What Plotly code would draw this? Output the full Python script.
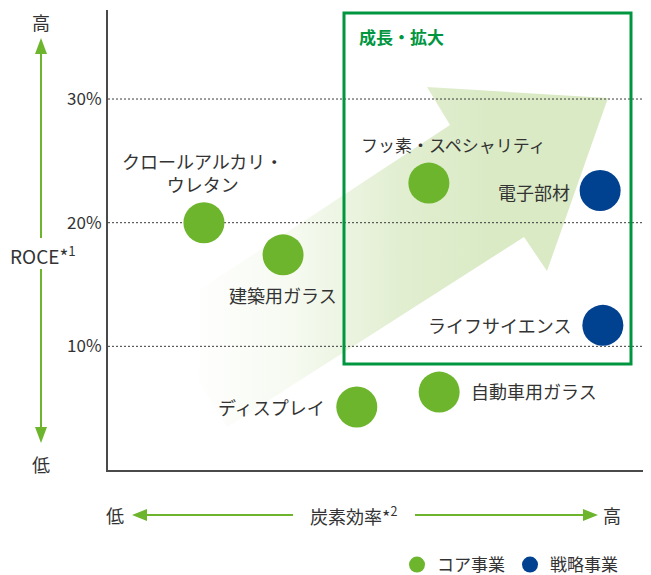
import plotly.graph_objects as go

# ---- data ----
core_names = ["クロールアルカリ・<br>ウレタン", "建築用ガラス", "ディスプレイ", "自動車用ガラス", "フッ素・スペシャリティ"]
core_carbon = [1.77, 3.23, 4.59, 6.11, 5.92]   # carbon efficiency (relative, no scale)
core_roce = [20.0, 17.4, 5.1, 6.3, 23.2]       # ROCE %

strat_names = ["電子部材", "ライフサイエンス"]
strat_carbon = [9.08, 9.13]
strat_roce = [22.6, 11.7]

roce_ticks = [10, 20, 30]
roce_ticktext = ["10%", "20%", "30%"]

# label placement (pixel offsets from each marker): xanchor, xshift, yshift, font size
core_label_style = [("center", -1, 50, 18), ("center", 0, -40, 18), ("right", -30, 0, 18),
                    ("left", 30, 1, 18), ("center", 25, 39, 17)]
strat_label_style = [("right", -28, -1, 18), ("right", -30, 0, 18)]

GREEN = "#6cb52d"
BLUE = "#004190"
BOX = "#00963f"
ARROW_GREEN = "#6cb52d"
TXT = "#333333"
FONT = "Noto Sans CJK JP"

# page body has an 8px margin: figure is drawn 8px in from the window corner
OFF = 8
W, H = 651 - OFF, 575 - OFF
ML, MT = 108 - OFF, 10 - OFF
PW, PH = 542, 460
MR, MB = W - ML - PW, H - MT - PH
XR = [0, 10]
YR = [0, 37.2]

# helpers take window-pixel positions (as measured on the reference)
def xd(px):
    return XR[0] + (px - OFF - ML) / PW * (XR[1] - XR[0])

def yd(py):
    return YR[0] + (MT + PH - (py - OFF)) / PH * (YR[1] - YR[0])

def xp(px):
    return (px - OFF - ML) / PW

def yp(py):
    return (MT + PH - (py - OFF)) / PH

fig = go.Figure()

# growth arrow (decorative, gradient)
arrow_px = [(158, 317), (450, 125), (427, 87), (608, 98), (547, 271), (524, 237), (227, 427), (158, 317)]
fig.add_trace(go.Scatter(
    x=[xd(a) for a, b in arrow_px], y=[yd(b) for a, b in arrow_px],
    mode="lines", fill="toself", line=dict(width=0),
    fillgradient=dict(type="horizontal",
                      colorscale=[[0, "rgba(218,234,197,0)"], [0.35, "rgba(218,234,197,0.25)"],
                                  [0.7, "rgba(218,234,197,0.8)"], [1, "rgba(218,234,197,1)"]],
                      start=xd(190), stop=xd(490)),
    hoverinfo="skip", showlegend=False))

# dotted gridlines
for v in roce_ticks:
    fig.add_trace(go.Scatter(x=XR, y=[v, v], mode="lines",
                             line=dict(color="#3a3a3a", width=1, dash="2px,2px"),
                             hoverinfo="skip", showlegend=False))

fig.add_trace(go.Scatter(
    x=core_carbon, y=core_roce, mode="markers", name="コア事業",
    marker=dict(color=GREEN, size=41, line=dict(width=0)), hoverinfo="skip"))
fig.add_trace(go.Scatter(
    x=strat_carbon, y=strat_roce, mode="markers", name="戦略事業",
    marker=dict(color=BLUE, size=41, line=dict(width=0)), hoverinfo="skip"))

annotations = []
for names, xs, ys, styles in [(core_names, core_carbon, core_roce, core_label_style),
                              (strat_names, strat_carbon, strat_roce, strat_label_style)]:
    for n, x, y, (xa, xs_, ys_, fs) in zip(names, xs, ys, styles):
        annotations.append(dict(text=n, x=x, y=y, xref="x", yref="y", showarrow=False,
                                xanchor=xa, yanchor="middle", xshift=xs_, yshift=ys_,
                                font=dict(family=FONT, size=fs, color=TXT)))

shapes = []
# growth box
shapes.append(dict(type="rect", xref="x", yref="y", x0=xd(344), x1=xd(631), y0=yd(364), y1=yd(13),
                   line=dict(color=BOX, width=3), layer="above"))

# axis arrows (paper coords)
def line(x0, y0, x1, y1):
    shapes.append(dict(type="line", xref="paper", yref="paper", x0=xp(x0), y0=yp(y0), x1=xp(x1), y1=yp(y1),
                       line=dict(color=ARROW_GREEN, width=2)))

def tri(pts):
    path = "M " + " L ".join(f"{xp(a)},{yp(b)}" for a, b in pts) + " Z"
    shapes.append(dict(type="path", xref="paper", yref="paper", path=path,
                       fillcolor=ARROW_GREEN, line=dict(width=0)))

line(41, 54, 41, 238)
line(41, 269, 41, 427)
tri([(41, 38), (35, 54), (47, 54)])
tri([(41, 443), (35, 427), (47, 427)])
line(147, 515, 293, 515)
line(415, 515, 583, 515)
tri([(132, 515), (147, 509), (147, 521)])
tri([(598, 515), (583, 509), (583, 521)])

def ann(text, x, y, size=18, color=TXT, xanchor="center"):
    annotations.append(dict(text=text, xref="paper", yref="paper", x=xp(x), y=yp(y),
                            xanchor=xanchor, yanchor="middle", showarrow=False,
                            font=dict(family=FONT, size=size, color=color)))

ann("高", 41, 22)
ann("低", 41, 464)
ann("ROCE*<sup>1</sup>", 43, 255, size=19)
ann("低", 115, 515)
ann("炭素効率*<sup>2</sup>", 353, 515, size=18)
ann("高", 612, 515)
ann("<b>成長・拡大</b>", 357, 36, size=17, color=BOX, xanchor="left")

fig.update_layout(
    width=W, height=H,
    margin=dict(l=ML, r=MR, t=MT, b=MB, pad=0, autoexpand=False),
    paper_bgcolor="white", plot_bgcolor="white",
    font=dict(family=FONT, color=TXT),
    xaxis=dict(range=XR, showgrid=False, zeroline=False, showticklabels=False, automargin=False,
               showline=True, linecolor="#4a4a4a", linewidth=2, fixedrange=True),
    yaxis=dict(range=YR, showgrid=False, zeroline=False, tickvals=roce_ticks, ticktext=roce_ticktext,
               tickfont=dict(family=FONT, size=17, color=TXT), ticks="", ticklabelstandoff=1, automargin=False,
               showline=True, linecolor="#4a4a4a", linewidth=2, fixedrange=True),
    shapes=shapes, annotations=annotations,
    showlegend=True,
    legend=dict(orientation="h", x=xp(397), xanchor="left", y=yp(565), yanchor="middle",
                font=dict(family=FONT, size=17, color=TXT), itemsizing="trace",
                bgcolor="rgba(0,0,0,0)", borderwidth=0, tracegroupgap=0),
)

fig.write_html("out.html")
